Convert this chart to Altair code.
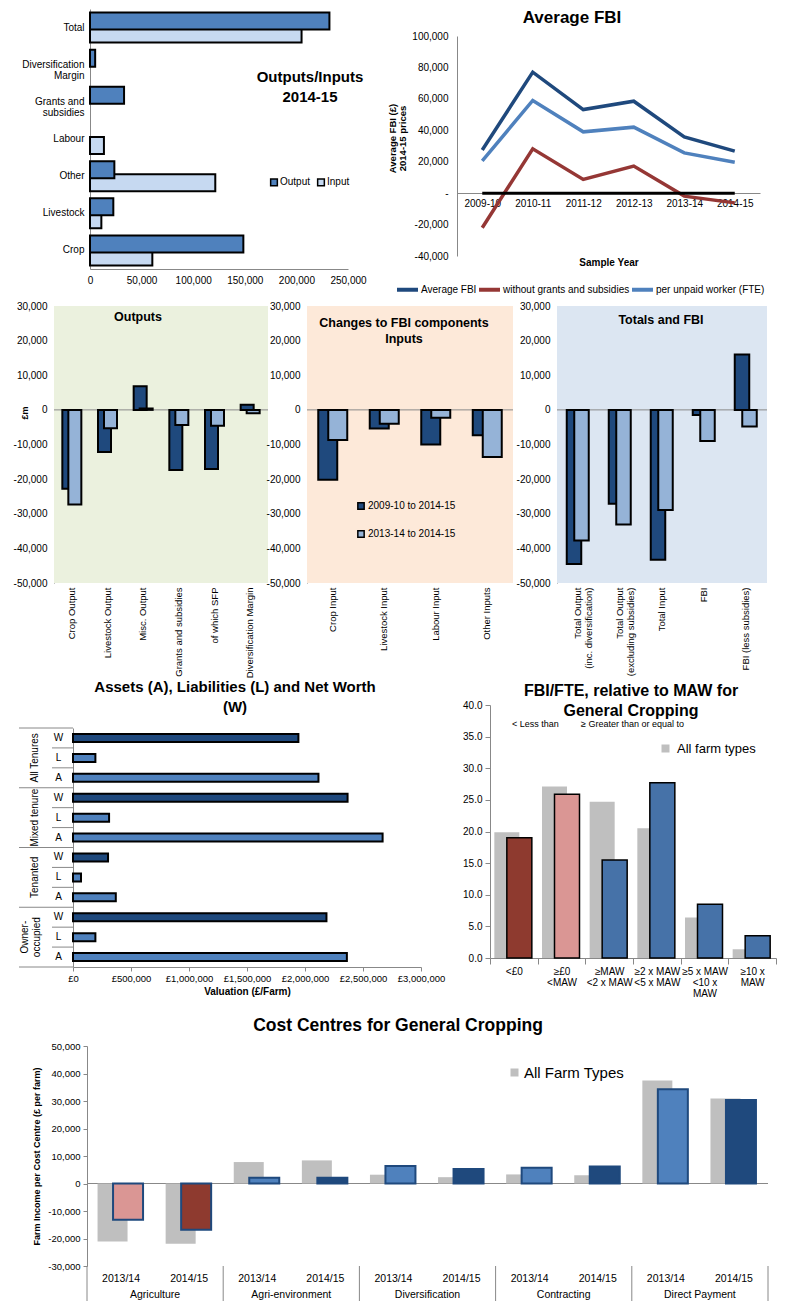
import altair as alt
import pandas as pd

FONT = "Liberation Sans"
NARROW = "Liberation Sans"

NAVY = "#1F497D"
MED = "#4F81BD"
LIGHT_IN = "#C6D9F1"
LIGHT_CH = "#95B3D7"
RED = "#953735"
DARKRED = "#8E3A2F"
PINK = "#DA9694"
BLUE7 = "#4672A8"
GRAY = "#BFBFBF"
AXIS = "#888888"

# ---------------- data ----------------
oi_categories = ["Total", "Diversification|Margin", "Grants and|subsidies", "Labour", "Other", "Livestock", "Crop"]
oi_output = [232000, 5000, 33000, None, 23600, 22600, 148600]
oi_input = [205000, None, None, 13500, 121400, 11000, 60400]

fbi_years = ["2009-10", "2010-11", "2011-12", "2012-13", "2013-14", "2014-15"]
fbi_series = ["Average FBI", "without grants and subsidies", "per unpaid worker (FTE)"]
fbi_average = [27500, 77000, 53200, 58500, 35800, 26700]
fbi_without_grants = [-22000, 28200, 8700, 17200, -1900, -6200]
fbi_per_worker = [20500, 59000, 39000, 42000, 25600, 19700]
fbi_zero = [0, 0, 0, 0, 0, 0]

periods = ["2009-10 to 2014-15", "2013-14 to 2014-15"]
out_categories = ["Crop Output", "Livestock Output", "Misc. Output", "Grants and subsidies", "of which SFP", "Diversification Margin"]
out_long = [-22800, -12200, 6800, -17400, -17100, 1500]
out_short = [-27300, -5300, 400, -4400, -4600, -1000]
in_categories = ["Crop Input", "Livestock Input", "Labour Input", "Other Inputs"]
in_long = [-20200, -5400, -10000, -7300]
in_short = [-8700, -4000, -2300, -13600]
tot_categories = ["Total Output|(inc. diversification)", "Total Output|(excluding subsidies)", "Total Input", "FBI", "FBI (less subsidies)"]
tot_long = [-44500, -27100, -43300, -1500, 16000]
tot_short = [-37700, -33100, -28900, -9000, -4800]

tenures = ["All Tenures", "Mixed tenure", "Tenanted", "Owner-|occupied"]
measures = ["W", "L", "A"]
net_worth = [1943000, 2367000, 302000, 2185000]
liabilities = [193000, 311000, 69000, 193000]
assets = [2116000, 2669000, 369000, 2361000]

maw_categories = ["<£0", "≥£0|<MAW", "≥MAW|<2 x MAW", "≥2 x MAW|<5 x MAW", "≥5 x MAW|<10 x|MAW", "≥10 x|MAW"]
maw_all = [19.9, 27.1, 24.7, 20.5, 6.4, 1.4]
maw_general_cropping = [19.0, 25.9, 15.5, 27.7, 8.5, 3.5]

cc_groups = ["Agriculture", "Agri-environment", "Diversification", "Contracting", "Direct Payment"]
cc_years = ["2013/14", "2014/15"]
cc_all = [-21100, -21900, 7800, 8400, 3200, 2300, 3300, 3000, 37500, 30900]
cc_general_cropping = [-13200, -16800, 2100, 2100, 6400, 5300, 5700, 6200, 34300, 30400]

dummy = pd.DataFrame({"d": [0]})


def text_layer(text, x, y, size=12, weight="bold", align="center", baseline="middle",
               font=FONT, angle=None, line_height=None):
    props = dict(fontSize=size, fontWeight=weight, align=align, baseline=baseline,
                 font=font, color="black", lineBreak="\n")
    if angle is not None:
        props["angle"] = angle
    if line_height is not None:
        props["lineHeight"] = line_height
    return alt.Chart(pd.DataFrame({"t": [text]})).mark_text(**props).encode(
        x=alt.value(x), y=alt.value(y), text="t:N")


def spacer(w, h):
    return alt.Chart(dummy).mark_rect(fill="white", opacity=1).encode(
        x=alt.value(0), x2=alt.value(w), y=alt.value(0), y2=alt.value(h)
    ).properties(width=w, height=h)


def dash_fmt():
    return "replace(format(datum.value, ','), '\u2212', '-')"


# ---------------- Panel 1: Outputs/Inputs ----------------
df1 = pd.DataFrame({
    "cat": oi_categories * 2,
    "series": ["Output"] * len(oi_categories) + ["Input"] * len(oi_categories),
    "value": oi_output + oi_input,
}).dropna()
y1 = alt.Y("cat:N", sort=oi_categories, title=None,
           scale=alt.Scale(paddingInner=0, paddingOuter=0),
           axis=alt.Axis(labelExpr="split(datum.label, '|')", ticks=False, labelPadding=6,
                         labelFontSize=10, labelLineHeight=11.5))
x1 = alt.X("value:Q", title=None, scale=alt.Scale(domain=[0, 250000], nice=False),
           axis=alt.Axis(values=[0, 50000, 100000, 150000, 200000, 250000], labelExpr=dash_fmt(),
                         ticks=False, labelPadding=6, labelFontSize=10, labelFlush=False))
c1 = alt.Color("series:N", scale=alt.Scale(domain=["Output", "Input"], range=[MED, LIGHT_IN]),
               legend=alt.Legend(title=None, orient="none", legendX=179, legendY=168,
                                 direction="horizontal", symbolType="square", symbolSize=45,
                                 symbolStrokeColor="black", symbolStrokeWidth=1.5,
                                 labelFontSize=10, labelOffset=1, columnPadding=3))
b1_in = alt.Chart(df1).transform_filter("datum.series == 'Input'").mark_bar(
    size=17, yOffset=6.5, stroke="black", strokeWidth=2).encode(x=x1, y=y1, color=c1)
b1_out = alt.Chart(df1).transform_filter("datum.series == 'Output'").mark_bar(
    size=17, yOffset=-6.5, stroke="black", strokeWidth=2).encode(x=x1, y=y1, color=c1)
p1 = alt.layer(
    b1_in, b1_out,
    text_layer("Outputs/Inputs\n2014-15", 220, 61, size=15, baseline="top", line_height=20),
).properties(width=258, height=260)

# ---------------- Panel 2: Average FBI ----------------
df2 = pd.DataFrame({
    "year": fbi_years * 3,
    "series": [s for s in fbi_series for _ in fbi_years],
    "value": fbi_average + fbi_without_grants + fbi_per_worker,
})
x2 = alt.X("year:N", sort=fbi_years, title=None, scale=alt.Scale(type="point", padding=0.5),
           axis=alt.Axis(offset=-76, ticks=False, labelPadding=5, labelFontSize=10, labelAngle=0))
y2 = alt.Y("value:Q", scale=alt.Scale(domain=[-40000, 100000], range=[247, 27], nice=False),
           axis=alt.Axis(values=list(range(-40000, 100001, 20000)),
                         labelExpr="datum.value == 0 ? '-' : " + dash_fmt(),
                         ticks=False, labelPadding=9, labelFontSize=10,
                         title=["Average FBI (£)", "2014-15 prices"], titleFontSize=9.5,
                         titleFontWeight="bold", titleY=129, titleLineHeight=10))
lines2 = alt.Chart(df2).mark_line(strokeWidth=3.5).encode(
    x=x2, y=y2,
    color=alt.Color("series:N", sort=fbi_series,
                    scale=alt.Scale(domain=fbi_series, range=[NAVY, RED, MED]),
                    legend=alt.Legend(title=None, orient="none", legendX=-62, legendY=268,
                                      direction="horizontal", symbolType="stroke",
                                      symbolStrokeWidth=4, symbolSize=440, labelFontSize=10,
                                      labelOffset=1, columnPadding=-9, labelLimit=300)))
zero2 = alt.Chart(pd.DataFrame({"year": fbi_years, "value": fbi_zero})).mark_line(
    color="black", strokeWidth=3).encode(x=x2, y=y2)
p2 = alt.layer(
    lines2, zero2,
    text_layer("Average FBI", 115, 8.5, size=17),
    text_layer("Sample Year", 152, 254, size=10),
).properties(width=303, height=260)


# ---------------- Row 2: changes to FBI components ----------------
def change_panel(cats, long_vals, short_vals, width, bar_w, off_long, off_short, bg,
                 titles, legend=None, extra=None):
    n = len(cats)
    df = pd.DataFrame({"cat": cats * 2, "period": [periods[0]] * n + [periods[1]] * n,
                       "value": long_vals + short_vals})
    xe = alt.X("cat:N", sort=cats, title=None, scale=alt.Scale(paddingInner=0, paddingOuter=0),
               axis=alt.Axis(labelAngle=270, labelAlign="right", labelBaseline="middle",
                             labelExpr="split(datum.label, '|')", ticks=False, domain=False,
                             labelPadding=4, labelFontSize=9.5, labelLineHeight=11, labelLimit=0))
    ye = alt.Y("value:Q", title=None,
               scale=alt.Scale(domain=[-50000, 30000], range=[284, 7], nice=False),
               axis=alt.Axis(values=list(range(-50000, 30001, 10000)), labelExpr=dash_fmt(),
                             ticks=False, labelPadding=7, labelFontSize=10))
    ce = alt.Color("period:N", scale=alt.Scale(domain=periods, range=[NAVY, LIGHT_CH]),
                   legend=legend)
    bgl = alt.Chart(dummy).mark_rect(fill=bg).encode(
        x=alt.value(0), x2=alt.value(width), y=alt.value(7), y2=alt.value(284))
    zero = alt.Chart(pd.DataFrame({"value": [0]})).mark_rule(color=AXIS).encode(y=ye)
    dark = alt.Chart(df).transform_filter(f"datum.period == '{periods[0]}'").mark_bar(
        width=bar_w, xOffset=off_long, stroke="black", strokeWidth=2).encode(x=xe, y=ye, color=ce)
    light = alt.Chart(df).transform_filter(f"datum.period == '{periods[1]}'").mark_bar(
        width=bar_w, xOffset=off_short, stroke="black", strokeWidth=2).encode(x=xe, y=ye, color=ce)
    layers = [bgl, zero, dark, light] + titles + (extra or [])
    return alt.layer(*layers).properties(width=width, height=284)


p3 = change_panel(out_categories, out_long, out_short, 214, 13, -3, 3, "#EBF1DE",
                  [text_layer("Outputs", 84, 18, size=12.5)],
                  extra=[text_layer("£m", -29, 114, size=9, angle=270)])
p4 = change_panel(in_categories, in_long, in_short, 206, 19, -5, 5, "#FDE9D9",
                  [text_layer("Changes to FBI components\nInputs", 97, 18, size=12.5,
                              baseline="top", line_height=16)],
                  legend=alt.Legend(title=None, orient="none", legendX=49, legendY=202,
                                    direction="vertical", symbolType="square", symbolSize=40,
                                    symbolStrokeColor="black", symbolStrokeWidth=1.5,
                                    labelFontSize=10, rowPadding=14, labelOffset=2,
                                    labelLimit=200))
p5 = change_panel(tot_categories, tot_long, tot_short, 210, 14.5, -4, 3.5, "#DCE6F2",
                  [text_layer("Totals and FBI", 104, 21, size=12.5)])

# ---------------- Panel 6: Assets, liabilities, net worth ----------------
keys6 = [f"{t}::{m}" for t in tenures for m in measures]
vals6 = []
for i in range(len(tenures)):
    vals6 += [net_worth[i], liabilities[i], assets[i]]
df6 = pd.DataFrame({"key": keys6, "measure": measures * len(tenures), "value": vals6})
y6 = alt.Y("key:N", sort=keys6, title=None,
           scale=alt.Scale(range=[48, 287], paddingInner=0, paddingOuter=0),
           axis=alt.Axis(labelExpr="split(datum.label, '::')[1]", ticks=False, labelAlign="center",
                         labelPadding=15, labelFontSize=10))
x6 = alt.X("value:Q", title="Valuation (£/Farm)", scale=alt.Scale(domain=[0, 3000000], nice=False),
           axis=alt.Axis(values=list(range(0, 3000001, 500000)),
                         labelExpr="'£' + format(datum.value, ',')", tickSize=4, labelPadding=2,
                         labelFontSize=9.5, titleFontSize=10, titleFontWeight="bold",
                         titlePadding=4, labelFlush=False))
bars6 = alt.Chart(df6).mark_bar(size=8, stroke="black", strokeWidth=2).encode(
    x=x6, y=y6,
    color=alt.Color("measure:N", scale=alt.Scale(domain=measures, range=[NAVY, MED, MED]), legend=None))
sep6_group = alt.Chart(pd.DataFrame({"key": [k for k in keys6 if k.endswith("::W")]})).mark_rule(
    color=AXIS).encode(y=alt.Y("key:N", sort=keys6, bandPosition=0), x=alt.value(-54), x2=alt.value(0))
sep6_inner = alt.Chart(pd.DataFrame({"key": [k for k in keys6 if not k.endswith("::W")]})).mark_rule(
    color=AXIS).encode(y=alt.Y("key:N", sort=keys6, bandPosition=0), x=alt.value(-21), x2=alt.value(0))
sep6_bottom = alt.Chart(pd.DataFrame({"key": [keys6[-1]]})).mark_rule(color=AXIS).encode(
    y=alt.Y("key:N", sort=keys6, bandPosition=1), x=alt.value(-54), x2=alt.value(0))
df6_lab = pd.DataFrame({"key": [f"{t}::L" for t in tenures], "tenure": tenures})
lab6_single = alt.Chart(df6_lab).transform_filter("indexof(datum.tenure, '|') < 0").mark_text(
    angle=270, fontSize=10, align="center", baseline="middle", color="black").encode(
    y=alt.Y("key:N", sort=keys6), x=alt.value(-38), text="tenure:N")
lab6_multi = alt.Chart(df6_lab).transform_filter("indexof(datum.tenure, '|') >= 0").mark_text(
    angle=270, lineBreak="|", fontSize=10, align="center", baseline="middle", color="black",
    lineHeight=12).encode(y=alt.Y("key:N", sort=keys6), x=alt.value(-48), text="tenure:N")
p6 = alt.layer(
    bars6, sep6_group, sep6_inner, sep6_bottom, lab6_single, lab6_multi,
    text_layer("Assets (A), Liabilities (L) and Net Worth\n(W)", 162, 0, size=15,
               baseline="top", line_height=20),
).properties(width=348, height=287)

# ---------------- Panel 7: FBI/FTE relative to MAW ----------------
df7a = pd.DataFrame({"cat": maw_categories, "value": maw_all,
                     "ftype": ["All farm types"] * len(maw_categories)})
df7b = pd.DataFrame({"cat": maw_categories, "value": maw_general_cropping})
x7 = alt.X("cat:N", sort=maw_categories, title=None,
           scale=alt.Scale(paddingInner=0, paddingOuter=0),
           axis=alt.Axis(labelExpr="split(datum.label, '|')", labelAngle=0, tickBand="extent",
                         tickSize=6, labelPadding=2, labelFontSize=10, labelLineHeight=11,
                         labelBaseline="top"))
y7 = alt.Y("value:Q", title=None, scale=alt.Scale(domain=[0, 40], range=[278, 25], nice=False),
           axis=alt.Axis(values=[0, 5, 10, 15, 20, 25, 30, 35, 40], format=".1f", tickSize=5,
                         labelPadding=3, labelFontSize=10))
gray7 = alt.Chart(df7a).mark_bar(width=25, xOffset=-7).encode(
    x=x7, y=y7,
    color=alt.Color("ftype:N", scale=alt.Scale(domain=["All farm types"], range=[GRAY]),
                    legend=alt.Legend(title=None, orient="none", legendX=169, legendY=62,
                                      symbolType="square", symbolSize=64, symbolStrokeWidth=0,
                                      labelFontSize=13, labelOffset=5)))
col7 = alt.Chart(df7b).mark_bar(width=25, xOffset=5.5, stroke="black", strokeWidth=1.5).encode(
    x=x7, y=y7,
    fill=alt.Fill("cat:N", scale=alt.Scale(domain=maw_categories,
                                           range=[DARKRED, PINK, BLUE7, BLUE7, BLUE7, BLUE7]),
                  legend=None))
p7 = alt.layer(
    gray7, col7,
    text_layer("FBI/FTE, relative to MAW for\nGeneral Cropping", 141, 3, size=16,
               baseline="top", line_height=20),
    text_layer("< Less than", 22, 44, size=9, weight="normal", align="left"),
    text_layer("≥ Greater than or equal to", 91, 44, size=9, weight="normal", align="left"),
).properties(width=286, height=278)

# ---------------- Panel 8: Cost centres ----------------
keys8 = [f"{g}::{y}" for g in cc_groups for y in cc_years]
df8a = pd.DataFrame({"key": keys8, "value": cc_all, "ftype": ["All Farm Types"] * len(keys8)})
df8b = pd.DataFrame({"key": keys8, "value": cc_general_cropping})
x8 = alt.X("key:N", sort=keys8, title=None, scale=alt.Scale(paddingInner=0, paddingOuter=0),
           axis=alt.Axis(labelExpr="split(datum.label, '::')[1]", labelAngle=0, ticks=False,
                         domain=False, labelPadding=7, labelFont=NARROW, labelFontSize=10.5))
y8 = alt.Y("value:Q", title="Farm Income per Cost Centre (£ per farm)",
           scale=alt.Scale(domain=[-30000, 50000], range=[250, 30], nice=False),
           axis=alt.Axis(values=list(range(-30000, 50001, 10000)), labelExpr=dash_fmt(),
                         tickSize=4, labelPadding=3, labelFont=NARROW, labelFontSize=9.5,
                         titleFontSize=9, titleFontWeight="bold", titlePadding=6))
zero8 = alt.Chart(pd.DataFrame({"value": [0]})).mark_rule(color=AXIS).encode(y=y8)
gray8 = alt.Chart(df8a).mark_bar(width=30, xOffset=-8.5).encode(
    x=x8, y=y8,
    color=alt.Color("ftype:N", scale=alt.Scale(domain=["All Farm Types"], range=[GRAY]),
                    legend=alt.Legend(title=None, orient="none", legendX=420, legendY=49,
                                      symbolType="square", symbolSize=64, symbolStrokeWidth=0,
                                      labelFont=NARROW, labelFontSize=15, labelOffset=2)))
col8 = alt.Chart(df8b).mark_bar(width=30, xOffset=7, stroke=NAVY, strokeWidth=2).encode(
    x=x8, y=y8,
    fill=alt.Fill("key:N", scale=alt.Scale(domain=keys8, range=[PINK, DARKRED] + [MED, NAVY] * 4),
                  legend=None))
sep8 = alt.Chart(pd.DataFrame({"key": [k for k in keys8 if k.endswith("2013/14")]})).mark_rule(
    color=AXIS).encode(x=alt.X("key:N", sort=keys8, bandPosition=0), y=alt.value(250), y2=alt.value(285))
sep8_end = alt.Chart(pd.DataFrame({"key": [keys8[-1]]})).mark_rule(color=AXIS).encode(
    x=alt.X("key:N", sort=keys8, bandPosition=1), y=alt.value(250), y2=alt.value(285))
grp8 = alt.Chart(pd.DataFrame({"key": [f"{g}::2014/15" for g in cc_groups], "group": cc_groups})).mark_text(
    font=NARROW, fontSize=10.5, baseline="middle", color="black").encode(
    x=alt.X("key:N", sort=keys8, bandPosition=0), y=alt.value(279), text="group:N")
p8 = alt.layer(
    zero8, gray8, col8, sep8, sep8_end, grp8,
    text_layer("Cost Centres for General Cropping", 311, 10, size=17.5, font=NARROW),
).properties(width=681, height=250)

# ---------------- layout ----------------
RES = dict(color="independent", fill="independent")
row1 = alt.hconcat(spacer(82, 290), p1, spacer(109, 1), p2, spacing=0, bounds="flush").resolve_scale(**RES)
row2 = alt.hconcat(spacer(46, 381), p3, spacer(39, 1), p4, spacer(44, 1), p5,
                   spacing=0, bounds="flush").resolve_scale(**RES)
row3 = alt.hconcat(spacer(65, 336), p6, spacer(69, 1), p7, spacing=0, bounds="flush").resolve_scale(**RES)
row4 = alt.hconcat(spacer(79, 285), p8, spacing=0, bounds="flush").resolve_scale(**RES)

chart = alt.vconcat(row1, row2, row3, row4, spacing=0).resolve_scale(**RES).properties(
    padding=0
).configure(font=FONT).configure_view(stroke=None).configure_axis(
    grid=False, domainColor=AXIS, tickColor=AXIS, labelColor="black", titleColor="black",
    labelFont=FONT, titleFont=FONT
).configure_legend(labelFont=FONT, labelColor="black", padding=0)

chart.save("out.html", embed_options={"renderer": "svg", "actions": False})
